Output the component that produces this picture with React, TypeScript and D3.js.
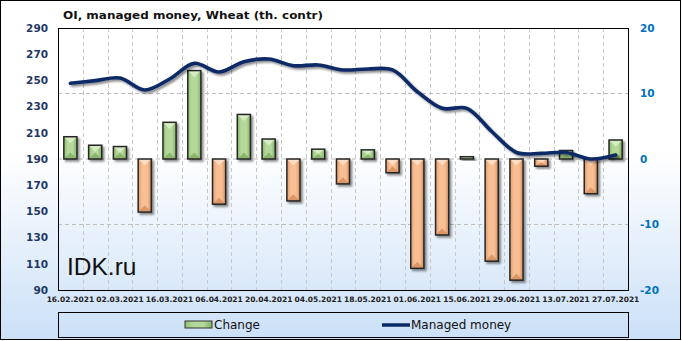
import React from "react";
import * as d3 from "d3";

const dates = [
  "16.02.2021", "23.02.2021", "02.03.2021", "09.03.2021", "16.03.2021", "23.03.2021",
  "06.04.2021", "13.04.2021", "20.04.2021", "27.04.2021", "04.05.2021", "11.05.2021",
  "18.05.2021", "25.05.2021", "01.06.2021", "08.06.2021", "15.06.2021", "22.06.2021",
  "29.06.2021", "06.07.2021", "13.07.2021", "20.07.2021", "27.07.2021",
];
const change = [
  3.4, 2.1, 1.9, -8.1, 5.6, 13.5, -6.9, 6.8, 3.05, -6.4, 1.5, -3.8,
  1.4, -2.1, -16.7, -11.6, 0.35, -15.6, -18.5, -1.1, 1.3, -5.3, 2.9,
];
const managed = [
  247.8, 249.8, 251.8, 242.7, 251, 263, 256.4, 264.3, 266.3, 261.2, 261.8, 258,
  258.7, 258, 241.4, 228.7, 228.7, 211, 195, 194.3, 195, 190, 193,
];
const leftTicks = [90, 110, 130, 150, 170, 190, 210, 230, 250, 270, 290];
const rightTicks = [-20, -10, 0, 10, 20];
const title = "OI, managed money, Wheat (th. contr)";
const seriesNames = ["Change", "Managed money"];

const W = 682, H = 341;
const PL = 58, PR = 628, PT = 28, PB = 290;

export default function App() {
  const x = d3.scaleBand<string>().domain(dates).range([PL, PR]).paddingInner(0.47).paddingOuter(0.235);
  const yL = d3.scaleLinear().domain([90, 290]).range([PB, PT]);
  const yR = d3.scaleLinear().domain([-20, 20]).range([PB, PT]);
  const bw = x.bandwidth();
  const step = x.step();
  const cx = (d: string) => (x(d) as number) + bw / 2;

  const line = d3
    .line<number>()
    .x((_, i) => cx(dates[i]))
    .y((v) => yL(v))
    .curve(d3.curveCatmullRom.alpha(0.5));

  const font = "'DejaVu Sans', Verdana, sans-serif";

  return (
    <svg width={W} height={H} style={{ position: "absolute", left: 0, top: 0 }}>
      <defs>
        <linearGradient id="bg" x1="0" y1="0" x2="0" y2="1">
          <stop offset="0" stopColor="#ffffff" />
          <stop offset="0.45" stopColor="#ffffff" />
          <stop offset="1" stopColor="#cbe0f7" />
        </linearGradient>
        <linearGradient id="gG" x1="0" y1="0" x2="1" y2="0">
          <stop offset="0" stopColor="#8dbd6c" />
          <stop offset="0.3" stopColor="#b4d99a" />
          <stop offset="0.7" stopColor="#b4d99a" />
          <stop offset="1" stopColor="#82b062" />
        </linearGradient>
        <linearGradient id="gO" x1="0" y1="0" x2="1" y2="0">
          <stop offset="0" stopColor="#e39a68" />
          <stop offset="0.3" stopColor="#f7bf93" />
          <stop offset="0.7" stopColor="#f7bf93" />
          <stop offset="1" stopColor="#d98e5c" />
        </linearGradient>
        <filter id="sh" x="-50%" y="-50%" width="200%" height="200%">
          <feDropShadow dx="2" dy="2" stdDeviation="1.3" floodColor="#000" floodOpacity="0.45" />
        </filter>
      </defs>
      <rect x={0.5} y={0.5} width={W - 2} height={H - 2} fill="url(#bg)" stroke="#000" />

      <text x={63} y={18.5} fontFamily={font} fontWeight="bold" fontSize={11} fill="#111" textLength={260} lengthAdjust="spacingAndGlyphs">
        {title}
      </text>

      {/* grid */}
      {rightTicks
        .filter((t) => t > -20 && t < 20)
        .map((t) => (
          <line key={"h" + t} x1={PL} x2={PR} y1={yR(t)} y2={yR(t)} stroke="#bdbdbd" strokeDasharray="4,3" />
        ))}
      {dates.slice(1).map((d, i) => {
        const gx = Math.round(PL + step * (i + 1)) + 0.5;
        return <line key={"v" + i} x1={gx} x2={gx} y1={PT} y2={PB} stroke="#c8c8c8" strokeDasharray="4,3" />;
      })}

      <text x={67} y={275} fontFamily="'Liberation Sans', Arial, sans-serif" fontSize={24.5} fill="#111">
        IDK.ru
      </text>

      {/* bars */}
      {change.map((v, i) => {
        const d = dates[i];
        const x0 = x(d) as number;
        const y0 = yR(0);
        const y1 = yR(v);
        const top = Math.min(y0, y1);
        const h = Math.abs(y1 - y0);
        const pos = v >= 0;
        const tri = Math.min(bw / 2, h / 2);
        return (
          <g key={"b" + i} filter="url(#sh)">
            <rect x={x0} y={top} width={bw} height={h} fill={pos ? "url(#gG)" : "url(#gO)"} />
            <path
              d={`M${x0},${top}L${x0 + bw},${top}L${x0 + bw / 2},${top + tri}Z`}
              fill={pos ? "#d6ecc5" : "#fcdcc2"}
            />
            <path
              d={`M${x0},${top + h}L${x0 + bw},${top + h}L${x0 + bw / 2},${top + h - tri}Z`}
              fill={pos ? "#7aa65c" : "#cf8656"}
              opacity={0.7}
            />
            <rect x={x0} y={top} width={bw} height={h} fill="none" stroke="#262626" strokeWidth={1.5} />
          </g>
        );
      })}

      {/* line */}
      <path d={line(managed) || ""} fill="none" stroke="#0c2a66" strokeWidth={3.6} strokeLinecap="round" filter="url(#sh)" />

      {/* plot border */}
      <rect x={PL + 0.5} y={PT + 0.5} width={PR - PL} height={PB - PT} fill="none" stroke="#000" />

      {/* left axis */}
      {leftTicks.map((t) => (
        <text key={"l" + t} x={48} y={yL(t)} dy="0.36em" textAnchor="end" fontFamily={font} fontWeight="bold" fontSize={10.5} fill="#1f3864">
          {t}
        </text>
      ))}
      {/* right axis */}
      {rightTicks.map((t) => (
        <text key={"r" + t} x={640} y={yR(t)} dy="0.36em" textAnchor="start" fontFamily={font} fontWeight="bold" fontSize={10.5} fill="#0070c0">
          {t}
        </text>
      ))}
      {/* x labels */}
      {dates.map((d, i) =>
        i % 2 === 0 ? (
          <text key={"x" + i} x={cx(d)} y={302} textAnchor="middle" fontFamily={font} fontWeight="bold" fontSize={7.5} fill="#222">
            {d}
          </text>
        ) : null
      )}

      {/* legend */}
      <rect x={PL + 0.5} y={312.5} width={PR - PL} height={25} fill="none" stroke="#000" />
      <rect x={185} y={321} width={27} height={7} fill="url(#gG)" stroke="#333" strokeWidth={1} />
      <text x={214} y={329} fontFamily={font} fontSize={12} fill="#111">
        {seriesNames[0]}
      </text>
      <line x1={382} x2={410} y1={325} y2={325} stroke="#0c2a66" strokeWidth={3.5} />
      <text x={411} y={329} fontFamily={font} fontSize={12} fill="#111">
        {seriesNames[1]}
      </text>
    </svg>
  );
}
